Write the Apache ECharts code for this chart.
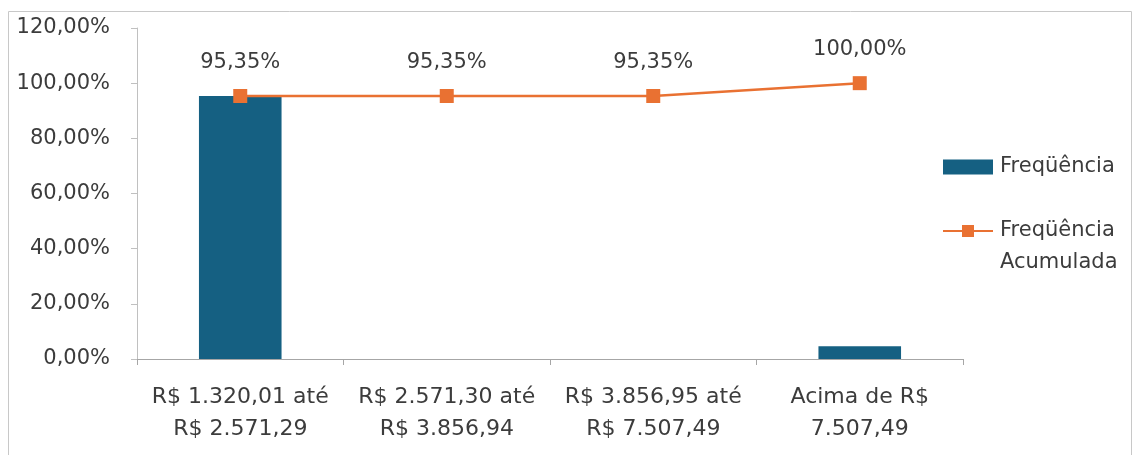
<!DOCTYPE html>
<html><head><meta charset="utf-8">
<script src="https://cdn.jsdelivr.net/npm/echarts@6/dist/echarts.min.js"></script>
<style>html,body{margin:0;padding:0;background:#fff}#c{width:1134px;height:455px}</style>
</head><body><div id="c"></div>
<script>
const categories = ["R$ 1.320,01 até\nR$ 2.571,29", "R$ 2.571,30 até\nR$ 3.856,94", "R$ 3.856,95 até\nR$ 7.507,49", "Acima de R$\n7.507,49"];
const frequencia = [95.35, 0, 0, 4.65];
const acumulada = [95.35, 95.35, 95.35, 100.00];
const yTicks = {min: 0, max: 120, interval: 20};
const seriesNames = ["Freqüência", "Freqüência Acumulada"];

const fmt = v => v.toFixed(2).replace('.', ',') + '%';
const font = '"DejaVu Sans", sans-serif';
const txt = '#3c3c3c';
const chart = echarts.init(document.getElementById('c'));
chart.setOption({
  animation: false,
  textStyle: {fontFamily: font},
  graphic: [{type: 'rect', shape: {x: 8.5, y: 11.5, width: 1123, height: 460}, style: {fill: 'none', stroke: '#c8c8c8', lineWidth: 1}, silent: true}],
  grid: {left: 137, right: 171, top: 28, bottom: 96},
  legend: {
    orient: 'vertical', left: 937, top: 146, itemWidth: 50, itemHeight: 15, itemGap: 0,
    textStyle: {fontSize: 21, color: txt, fontFamily: font, lineHeight: 32,
      rich: {s: {fontSize: 21, lineHeight: 32}, t: {fontSize: 21, lineHeight: 32, color: txt, padding: [0, 0, 0, 2]}}},
    formatter: n => n === seriesNames[1] ? '{s| }\n{t|Freqüência}\n{t|Acumulada}' : '{t|' + n + '}',
    data: [
      {name: seriesNames[0], icon: 'rect'},
      {name: seriesNames[1]}
    ]
  },
  xAxis: {
    type: 'category', data: categories,
    axisLine: {lineStyle: {color: '#a6a6a6', width: 1}},
    axisTick: {show: true, length: 6, lineStyle: {color: '#a6a6a6'}},
    axisLabel: {fontSize: 22, color: txt, lineHeight: 32, margin: 22, interval: 0}
  },
  yAxis: {
    type: 'value', min: yTicks.min, max: yTicks.max, interval: yTicks.interval,
    axisLine: {show: true, lineStyle: {color: '#c0c0c0', width: 1}},
    axisTick: {show: true, length: 6, lineStyle: {color: '#c0c0c0'}},
    splitLine: {show: false},
    axisLabel: {fontSize: 21, color: txt, margin: 27, formatter: fmt}
  },
  series: [
    {name: seriesNames[0], type: 'bar', data: frequencia, barWidth: '40%', itemStyle: {color: '#156082'}},
    {name: seriesNames[1], type: 'line', data: acumulada, symbol: 'rect', symbolSize: 14,
     itemStyle: {color: '#E97132'}, lineStyle: {color: '#E97132', width: 2.5},
     label: {show: true, position: 'top', distance: 16, fontSize: 21, color: txt, formatter: p => fmt(p.value)}}
  ]
});
</script></body></html>
